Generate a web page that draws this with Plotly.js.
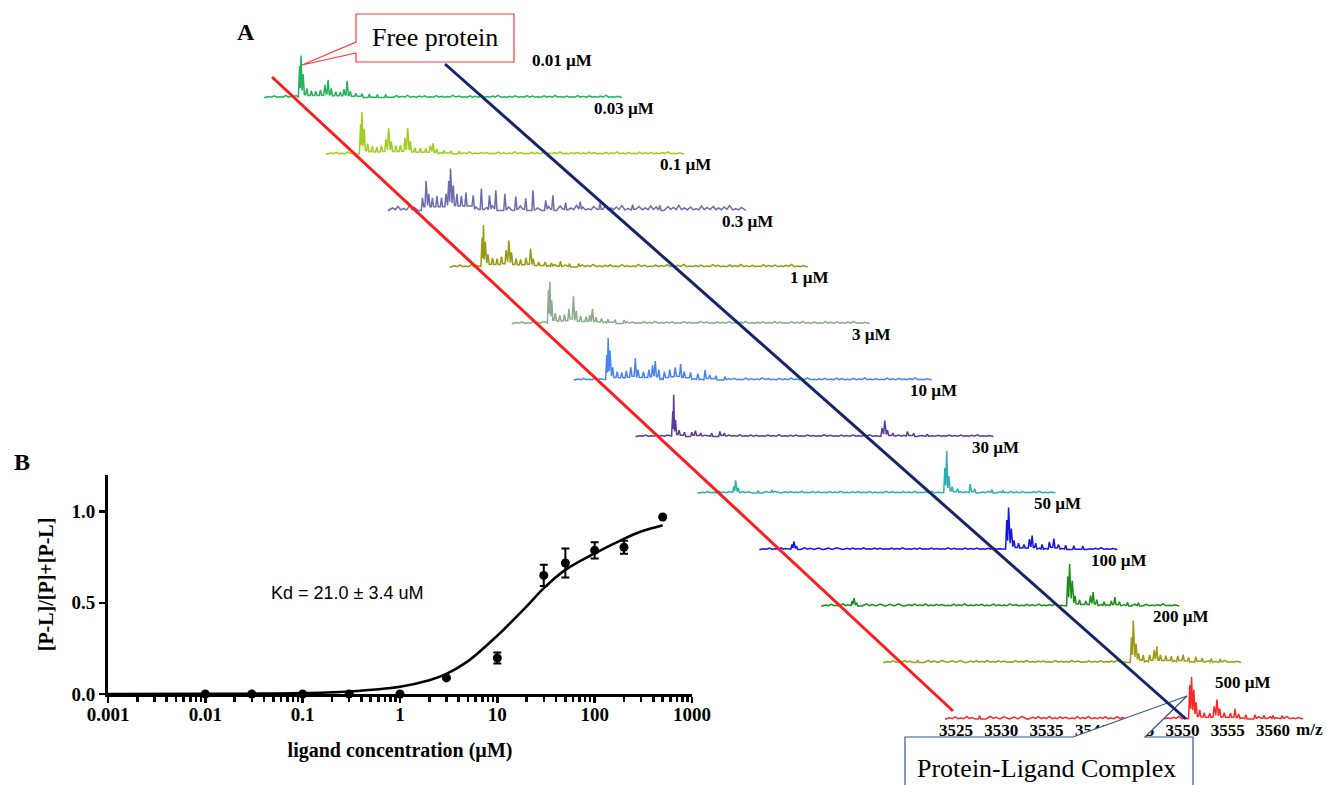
<!DOCTYPE html>
<html><head><meta charset="utf-8">
<script src="https://cdn.plot.ly/plotly-3.0.1.min.js"></script>
<style>html,body{margin:0;padding:0;background:#fff}#chart{width:1327px;height:785px}</style>
</head><body><div id="chart"></div>
<script>
// ---------- Panel B data ----------
const concentrations = [0.01, 0.03, 0.1, 0.3, 1, 3, 10, 30, 50, 100, 200, 500];
const fraction       = [0, 0, 0, 0, 0, 0.088, 0.197, 0.65, 0.718, 0.787, 0.804, 0.97];
const fractionErr    = [0, 0, 0, 0, 0, 0, 0.03, 0.058, 0.079, 0.045, 0.036, 0];
const fitConc = [0.001, 0.01, 0.03, 0.1, 0.3, 1, 2, 3, 5, 10, 20, 30, 50, 100, 200, 300, 500];
const fitFrac = [0, 0.0005, 0.0015, 0.005, 0.014, 0.04, 0.075, 0.11, 0.18, 0.32, 0.48, 0.58, 0.68, 0.77, 0.85, 0.89, 0.925];
const xTickVals = [0.001, 0.01, 0.1, 1, 10, 100, 1000];
const xTickText = ['0.001', '0.01', '0.1', '1', '10', '100', '1000'];
const yTickVals = [0, 0.5, 1.0];
const yTickText = ['0.0', '0.5', '1.0'];
const kdText = 'Kd = 21.0 ± 3.4 uM';

// ---------- Panel A data (m/z, relative intensity %) ----------
const concLabels = ['0.01 µM', '0.03 µM', '0.1 µM', '0.3 µM', '1 µM', '3 µM', '10 µM', '30 µM', '50 µM', '100 µM', '200 µM', '500 µM'];
const mzTicks = [3525, 3530, 3535, 3540, 3545, 3550, 3555, 3560];

const s001Mz = [3527.7,3527.86,3528.1,3528.5,3529.0,3529.5,3530.0,3530.5,3530.85,3531.2,3531.7,3532.2,3532.6,3532.95,3533.3,3533.9,3534.6,3535.4,3536.3,3537.2];
const s001I  = [75,100,55,22,16,15,18,30,42,22,14,13,20,40,15,10,9,8,7,7];
const s003Mz = [3527.6,3527.75,3528.0,3528.4,3528.9,3529.4,3529.9,3530.4,3530.7,3531.0,3531.5,3532.0,3532.5,3532.8,3533.1,3533.6,3534.2,3534.8,3535.3,3535.6,3536.0,3536.8,3537.6,3538.5];
const s003I  = [70,100,60,25,18,16,20,35,62,30,20,22,38,62,30,15,14,14,20,26,12,9,8,7];
const s01Mz  = [3527.6,3528.0,3528.3,3528.7,3529.2,3529.7,3530.2,3530.5,3530.7,3531.0,3531.4,3531.9,3532.4,3533.2,3534.1,3535.0,3535.7,3536.7,3537.9,3539.0,3539.8,3541.2,3542.0,3543.4,3545.0,3547.2,3550.8,3553.8];
const s01I   = [30,70,40,30,35,30,40,70,100,60,40,35,43,36,52,36,48,40,33,29,48,24,36,19,21,17,14,12];
const s03Mz  = [3527.35,3527.5,3527.7,3528.0,3528.5,3529.0,3529.5,3530.0,3530.3,3530.6,3531.1,3531.6,3532.2,3532.7,3533.0,3533.6,3534.3,3535.0,3536.0,3537.0,3538.0];
const s03I   = [70,100,60,30,22,20,25,40,63,35,20,18,22,44,20,12,12,10,14,8,8];
const s1Mz   = [3527.85,3528.0,3528.2,3528.6,3529.1,3529.6,3530.1,3530.6,3530.9,3531.4,3532.0,3532.4,3532.7,3533.1,3533.7,3534.4,3535.2,3536.2];
const s1I    = [80,100,55,25,20,22,35,65,30,18,16,20,35,15,12,10,9,8];
const s3Mz   = [3527.45,3527.6,3527.8,3528.1,3528.6,3529.1,3529.6,3530.1,3530.6,3530.9,3531.5,3532.1,3532.5,3532.8,3533.2,3533.8,3534.4,3535.0,3535.6,3536.0,3536.7,3537.5,3538.3,3538.8,3539.5,3540.5];
const s3I    = [60,100,70,30,20,18,22,30,52,25,20,25,35,45,25,20,25,30,38,20,18,15,24,12,10,8];
const s10Mz  = [3527.9,3528.0,3528.2,3528.6,3529.2,3530.0,3530.4,3531.0,3532.2,3533.1,3533.6,3551.0,3551.3,3551.6,3552.2,3553.8,3554.5,3556.0];
const s10I   = [60,100,40,15,10,10,14,8,8,12,8,20,38,15,8,12,8,6];
const s30Mz  = [3527.8,3528.0,3528.3,3530.5,3532.0,3551.1,3551.3,3551.55,3551.9,3552.5,3553.9,3554.4,3556.3,3557.5];
const s30I   = [15,30,12,6,6,60,100,40,15,10,21,10,8,6];
const s50Mz  = [3527.4,3527.6,3527.9,3551.1,3551.3,3551.6,3551.9,3552.4,3553.0,3553.6,3553.9,3554.3,3555.0,3555.8,3556.3,3556.8,3557.6,3558.5,3559.5];
const s50I   = [12,19,8,70,100,50,22,15,12,25,33,15,12,18,26,12,10,9,8];
const s100Mz = [3527.2,3527.4,3527.7,3551.0,3551.2,3551.5,3551.8,3552.3,3553.0,3553.5,3553.8,3554.2,3555.0,3555.8,3556.2,3556.7,3557.6,3558.8];
const s100I  = [12,19,8,70,100,60,25,15,12,25,33,15,10,12,21,10,9,8];
const s200Mz = [3527.6,3551.2,3551.4,3551.7,3552.0,3552.5,3553.2,3553.7,3554.0,3554.4,3555.0,3555.6,3556.3,3556.9,3557.5,3558.3,3559.0,3560.0,3561.0];
const s200I  = [6,60,100,45,22,18,18,30,38,18,16,15,16,19,12,14,10,9,8];
const s500Mz = [3527.6,3550.8,3551.0,3551.25,3551.5,3551.9,3552.4,3553.0,3553.5,3553.8,3554.1,3554.6,3555.3,3555.8,3556.2,3557.0,3558.0,3559.0,3560.0,3561.0];
const s500I  = [8,80,100,70,40,22,15,14,30,46,25,15,14,24,12,10,10,9,8,8];

// baseline noise spikes (positions and relative shape), and noise level per spectrum (%)
const noiseMz = [3524.3,3524.9,3525.5,3526.2,3526.7,3527.3,3528.8,3529.4,3530.3,3531.4,
                 3532.3,3533.5,3534.1,3534.7,3535.3,3535.9,3536.5,3537.1,3537.8,3538.4,
                 3539.0,3539.6,3540.3,3540.9,3541.5,3542.1,3542.8,3543.4,3544.0,3544.6,
                 3545.3,3545.9,3546.5,3547.1,3547.8,3548.4,3549.0,3549.6,3550.3,3550.9,
                 3551.5,3552.2,3552.8,3553.4,3554.0,3554.7,3555.3,3555.9,3556.5,3557.2,
                 3557.8,3558.4,3559.0,3559.7,3560.3,3560.9,3561.5,3562.2,3562.8];
const noiseShape = [0.5,0.8,0.4,1.0,0.6,0.9,1.0,0.7,0.9,0.8,
                    1.0,0.7,0.9,0.6,1.0,0.5,0.8,0.7,0.4,0.9,
                    0.6,1.0,0.5,0.7,0.8,0.4,0.9,0.6,0.5,1.0,
                    0.7,0.4,0.8,0.6,0.9,0.5,0.7,1.0,0.4,0.6,
                    0.8,0.5,0.9,0.7,0.4,0.8,0.6,1.0,0.5,0.7,
                    0.4,0.9,0.6,0.8,0.5,0.7,1.0,0.4,0.6];
const noiseLevel = [5, 5, 12, 6, 5, 5, 4, 4, 4, 5, 5, 6];

const spectraMz = [s001Mz, s003Mz, s01Mz, s03Mz, s1Mz, s3Mz, s10Mz, s30Mz, s50Mz, s100Mz, s200Mz, s500Mz];
const spectraI  = [s001I, s003I, s01I, s03I, s1I, s3I, s10I, s30I, s50I, s100I, s200I, s500I];

// ---------- styling / layout constants ----------
const W = 1327, H = 785;
const PX = p => p / W, PY = p => 1 - p / H;
const serif = 'Liberation Serif, Times New Roman, serif';
const sans = 'Liberation Sans, Arial, sans-serif';
const colors = ['#20b55c', '#9dcf1c', '#6c6cad', '#9a9914', '#8caa8c', '#4a84f2',
                '#5a3c9f', '#2bafaf', '#1414e4', '#1b8e1b', '#9c9a14', '#ff2626'];
const MZ_START = 3524.0, MZ_END = 3563.3;
const PX_PER_MZ = 9.06, PX_PER_INT = 0.42;
const STEP_X = 61.9 / PX_PER_MZ, STEP_Y = 56.5 / PX_PER_INT;
const x2range = [3525 - 956 / PX_PER_MZ, 3525 + (W - 956) / PX_PER_MZ];
const y2range = [-(H - 719) / PX_PER_INT, 719 / PX_PER_INT];

function buildSpectrum(pm, pi, amp) {
  const apex = pm.map((m, k) => [m, pi[k], 0.13]);
  noiseMz.forEach((m, k) => {
    if (pm.some(p => Math.abs(p - m) < 0.3)) return;
    apex.push([m, amp * noiseShape[k], 0.5]);
  });
  apex.sort((a, b) => a[0] - b[0]);
  const xs = [MZ_START], ys = [0];
  apex.forEach(([m, h, w], k) => {
    const prev = k > 0 ? apex[k - 1] : null, next = k < apex.length - 1 ? apex[k + 1] : null;
    const gl = prev ? m - prev[0] : 1, gr = next ? next[0] - m : 1;
    const wl = Math.min(w, gl / 2), wr = Math.min(w, gr / 2);
    const vl = (prev && gl < 0.8) ? 0.3 * Math.min(h, prev[1]) : 0;
    const vr = (next && gr < 0.8) ? 0.3 * Math.min(h, next[1]) : 0;
    xs.push(m - wl, m, m + wr); ys.push(vl, h, vr);
  });
  xs.push(MZ_END); ys.push(0);
  return [xs, ys];
}

const traces = [];
spectraMz.forEach((pm, i) => {
  const [xs, ys] = buildSpectrum(pm, spectraI[i], noiseLevel[i]);
  const dx = -(11 - i) * STEP_X, dy = (11 - i) * STEP_Y;
  traces.push({
    x: xs.map(v => v + dx), y: ys.map(v => v + dy),
    xaxis: 'x2', yaxis: 'y2', type: 'scatter', mode: 'lines',
    line: {color: colors[i], width: 1.5}, hoverinfo: 'skip', showlegend: false
  });
});

traces.push({
  x: fitConc, y: fitFrac, xaxis: 'x', yaxis: 'y', type: 'scatter', mode: 'lines',
  line: {color: '#000', width: 2.6, shape: 'spline', smoothing: 1}, cliponaxis: false, hoverinfo: 'skip'
});
traces.push({
  x: concentrations, y: fraction, xaxis: 'x', yaxis: 'y', type: 'scatter', mode: 'markers',
  marker: {color: '#000', size: 9},
  error_y: {type: 'data', array: fractionErr, visible: true, color: '#000', thickness: 2, width: 4},
  cliponaxis: false, hoverinfo: 'skip'
});

const minorVals = [];
[-3, -2, -1, 0, 1, 2].forEach(d => { for (let k = 2; k <= 9; k++) minorVals.push(k * Math.pow(10, d)); });

const annotations = [];
concLabels.forEach((t, i) => {
  const dx = -(11 - i) * STEP_X, dy = (11 - i) * STEP_Y;
  const above = (i === 0 || i === 11) ? 37 : 46;
  annotations.push({
    text: t, xref: 'x2', yref: 'y2', x: MZ_END - 60 / PX_PER_MZ + dx, y: dy + above / PX_PER_INT,
    showarrow: false, xanchor: 'center', yanchor: 'middle',
    font: {family: serif, size: 17, weight: 'bold', color: '#000'}
  });
});
const paperText = (text, x, y, font) => ({text, xref: 'paper', yref: 'paper', x: PX(x), y: PY(y),
  showarrow: false, xanchor: 'center', yanchor: 'middle', font});
annotations.push(
  paperText('A', 246, 32, {family: serif, size: 24, weight: 'bold', color: '#000'}),
  paperText('B', 22, 462, {family: serif, size: 24, weight: 'bold', color: '#000'}),
  paperText(kdText, 347, 593, {family: sans, size: 18, color: '#000'}),
  paperText('m/z', 1309, 729, {family: serif, size: 17, weight: 'bold', color: '#000'}),
  paperText('Free protein', 435, 38, {family: serif, size: 26, color: '#000'}),
  paperText('Protein-Ligand Complex', 1046, 768, {family: serif, size: 26, color: '#000'})
);

function path(pts) {
  return pts.map((p, k) => (k ? 'L' : 'M') + PX(p[0]).toFixed(5) + ',' + PY(p[1]).toFixed(5)).join(' ') + ' Z';
}
const shapes = [
  {type: 'line', xref: 'paper', yref: 'paper', x0: PX(272), y0: PY(77), x1: PX(953), y1: PY(711), line: {color: '#ff1c1c', width: 3}, layer: 'above'},
  {type: 'path', xref: 'paper', yref: 'paper', layer: 'above', fillcolor: '#fff', line: {color: '#ff3a3a', width: 1.2},
   path: path([[356, 14], [514, 14], [514, 62], [356, 62], [356, 53], [302, 65], [356, 42]])},
  {type: 'path', xref: 'paper', yref: 'paper', layer: 'above', fillcolor: '#fff', line: {color: '#34558c', width: 1.2},
   path: path([[905, 737], [1073, 737], [1187, 696], [1145, 737], [1193, 737], [1193, 800], [905, 800]])},
  {type: 'line', xref: 'paper', yref: 'paper', x0: PX(445), y0: PY(64), x1: PX(1186), y1: PY(719), line: {color: '#14266a', width: 3}, layer: 'above'}
];

const layout = {
  width: W, height: H, margin: {l: 0, r: 0, t: 0, b: 0},
  paper_bgcolor: '#fff', plot_bgcolor: 'rgba(0,0,0,0)', showlegend: false, hovermode: false,
  xaxis: {
    type: 'log', domain: [PX(108), PX(692)], range: [-3, 3], anchor: 'y',
    tickmode: 'array', tickvals: xTickVals, ticktext: xTickText,
    ticks: 'outside', ticklen: 6, tickwidth: 2.5, tickcolor: '#000', ticklabelstandoff: -5,
    minor: {tickmode: 'array', tickvals: minorVals, ticks: 'outside', ticklen: 5, tickwidth: 2.5, tickcolor: '#000', showgrid: false},
    showline: true, linewidth: 3, linecolor: '#000', showgrid: false, zeroline: false,
    tickfont: {family: serif, size: 19, weight: 'bold', color: '#000'},
    title: {text: 'ligand concentration (µM)', font: {family: serif, size: 20, weight: 'bold', color: '#000'}, standoff: 20}
  },
  yaxis: {
    domain: [PY(694), PY(475)], range: [0, 1.2], anchor: 'x',
    tickmode: 'array', tickvals: yTickVals, ticktext: yTickText,
    ticks: 'outside', ticklen: 6, tickwidth: 2.5, tickcolor: '#000',
    showline: true, linewidth: 3, linecolor: '#000', showgrid: false, zeroline: false,
    tickfont: {family: serif, size: 19, weight: 'bold', color: '#000'},
    title: {text: '[P-L]/[P]+[P-L]', font: {family: serif, size: 20, weight: 'bold', color: '#000'}, standoff: 13}
  },
  xaxis2: {
    domain: [0, 1], range: x2range, anchor: 'free', position: PY(718),
    tickmode: 'array', tickvals: mzTicks, ticktext: mzTicks.map(String),
    ticks: '', showline: false, showgrid: false, zeroline: false,
    tickfont: {family: serif, size: 17, weight: 'bold', color: '#000'}
  },
  yaxis2: {domain: [0, 1], range: y2range, anchor: 'x2', visible: false, showgrid: false, zeroline: false},
  annotations: annotations, shapes: shapes
};

Plotly.newPlot('chart', traces, layout, {staticPlot: true, displayModeBar: false});
</script>
</body></html>
